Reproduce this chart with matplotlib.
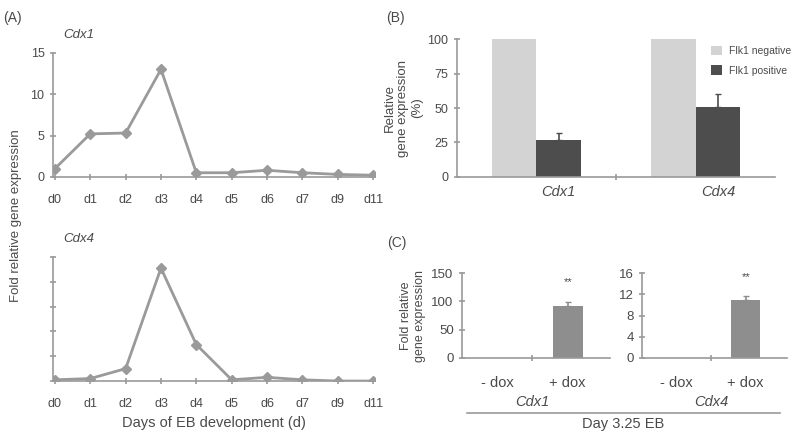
import numpy as np
import matplotlib.pyplot as plt

# panel A: time course
days = ["d0", "d1", "d2", "d3", "d4", "d5", "d6", "d7", "d9", "d11"]
cdx1_fold = [1.0, 5.2, 5.3, 13.0, 0.5, 0.5, 0.8, 0.5, 0.3, 0.2]
cdx4_fold = [0.05, 0.1, 0.5, 4.55, 1.47, 0.05, 0.15, 0.05, 0.0, 0.0]

# panel B: Flk1 sorted fractions
genes = ["Cdx1", "Cdx4"]
flk1_neg = [100, 100]
flk1_pos = [27, 51]
flk1_pos_err = [5, 9.5]

# panel C: dox induction
dox_labels = ["- dox", "+ dox"]
c_cdx1 = [0, 92]
c_cdx1_err = [0, 7]
c_cdx4 = [0, 10.9]
c_cdx4_err = [0, 0.8]

LINE = "#9a9a9a"
AX = "#9a9a9a"
TXT = "#4a4a4a"

plt.rcParams["font.family"] = ["Liberation Sans", "DejaVu Sans"]


def style(ax):
    for s in ["top", "right"]:
        ax.spines[s].set_visible(False)
    for s in ["left", "bottom"]:
        ax.spines[s].set_color(AX)
        ax.spines[s].set_linewidth(1.2)
    ax.tick_params(colors=AX, labelcolor=TXT, direction="inout", length=5, width=1.2, labelsize=9)


fig = plt.figure(figsize=(8, 4.4), dpi=100)

# ---- (A) ----
x = np.arange(len(days))
axA1 = fig.add_axes([0.066, 0.598, 0.403, 0.282])
axA2 = fig.add_axes([0.066, 0.134, 0.403, 0.282])
for ax, vals, ymax in [(axA1, cdx1_fold, 15), (axA2, cdx4_fold, 5)]:
    style(ax)
    ax.plot(x, vals, color=LINE, lw=2, marker="D", ms=5, mfc=LINE, mec=LINE)
    ax.set_xlim(-0.06, 9.06)
    ax.set_ylim(0, ymax)
    ax.set_xticks(x)
    ax.set_xticklabels(days)
    ax.tick_params(axis="x", pad=10)
axA1.set_yticks([0, 5, 10, 15])
axA2.set_yticks(np.arange(0, 6))
axA2.set_yticklabels([])
axA2.set_xlabel("Days of EB development (d)", fontsize=10.5, color=TXT, labelpad=4)
fig.text(0.079, 0.92, "Cdx1", style="italic", fontsize=9.5, color=TXT, ha="left", va="center")
fig.text(0.079, 0.457, "Cdx4", style="italic", fontsize=9.5, color=TXT, ha="left", va="center")
fig.text(0.02, 0.51, "Fold relative gene expression", rotation=90, fontsize=9.5, color=TXT,
         ha="center", va="center")
fig.text(0.004, 0.96, "(A)", fontsize=10, color=TXT, ha="left", va="center")

# ---- (B) ----
axB = fig.add_axes([0.571, 0.598, 0.398, 0.313])
style(axB)
gx = np.arange(len(genes))
w = 0.28
axB.bar(gx - w / 2, flk1_neg, w, color="#d3d3d3", label="Flk1 negative")
axB.bar(gx + w / 2, flk1_pos, w, color="#4d4d4d", label="Flk1 positive")
axB.errorbar(gx + w / 2, flk1_pos, yerr=[np.zeros(2), flk1_pos_err], fmt="none",
             ecolor="#4d4d4d", elinewidth=1.2, capsize=2)
axB.set_xlim(-0.5, 1.5)
axB.set_ylim(0, 100)
axB.set_yticks([0, 25, 50, 75, 100])
axB.set_xticks([0.5])
axB.set_xticklabels([""])
for i, g in enumerate(genes):
    axB.text(i + w / 2, -11, g, style="italic", fontsize=10.5, color=TXT, ha="center", va="center")
axB.set_ylabel("Relative\ngene expression\n(%)", fontsize=9.5, color=TXT, labelpad=3)
axB.legend(loc="upper right", bbox_to_anchor=(1.08, 1.02), frameon=False, fontsize=7.5,
           labelcolor=TXT, handlelength=1.0, handleheight=1.0, handletextpad=0.7,
           labelspacing=0.9)
fig.text(0.483, 0.96, "(B)", fontsize=10, color=TXT, ha="left", va="center")

# ---- (C) ----
axC1 = fig.add_axes([0.5775, 0.1864, 0.185, 0.1931])
axC2 = fig.add_axes([0.8025, 0.1864, 0.1815, 0.1931])
dx = np.arange(len(dox_labels))
for ax, vals, err, ymax, ticks, g, sy in [
        (axC1, c_cdx1, c_cdx1_err, 150, [0, 50, 100, 150], "Cdx1", 0.89),
        (axC2, c_cdx4, c_cdx4_err, 16, [0, 4, 8, 12, 16], "Cdx4", 0.95)]:
    style(ax)
    ax.bar(dx, vals, 0.42, color="#8e8e8e")
    ax.errorbar(dx[1:], vals[1:], yerr=[[0], err[1:]], fmt="none", ecolor="#8e8e8e",
                elinewidth=1.2, capsize=2)
    ax.set_xlim(-0.5, 1.6)
    ax.set_ylim(0, ymax)
    ax.set_yticks(ticks)
    ax.set_xticks([0.5])
    ax.set_xticklabels([""])
    for i, lab in enumerate(dox_labels):
        ax.text(i, -0.29 * ymax, lab, fontsize=10.5, color=TXT, ha="center", va="center")
    ax.text(0.5, -0.52 * ymax, g, style="italic", fontsize=10.5, color=TXT, ha="center", va="center")
    ax.text(1, sy * ymax, "**", fontsize=8, color=TXT, ha="center", va="center")
    ax.tick_params(axis="y", labelsize=9.5)
axC1.set_ylabel("Fold relative\ngene expression", fontsize=9, color=TXT, labelpad=4)
fig.add_artist(plt.Line2D([0.584, 0.975], [0.061, 0.061], color=AX, lw=1.2))
fig.text(0.779, 0.036, "Day 3.25 EB", fontsize=10.5, color=TXT, ha="center", va="center")
fig.text(0.484, 0.448, "(C)", fontsize=10, color=TXT, ha="left", va="center")

fig.savefig("out.png", dpi=100)
